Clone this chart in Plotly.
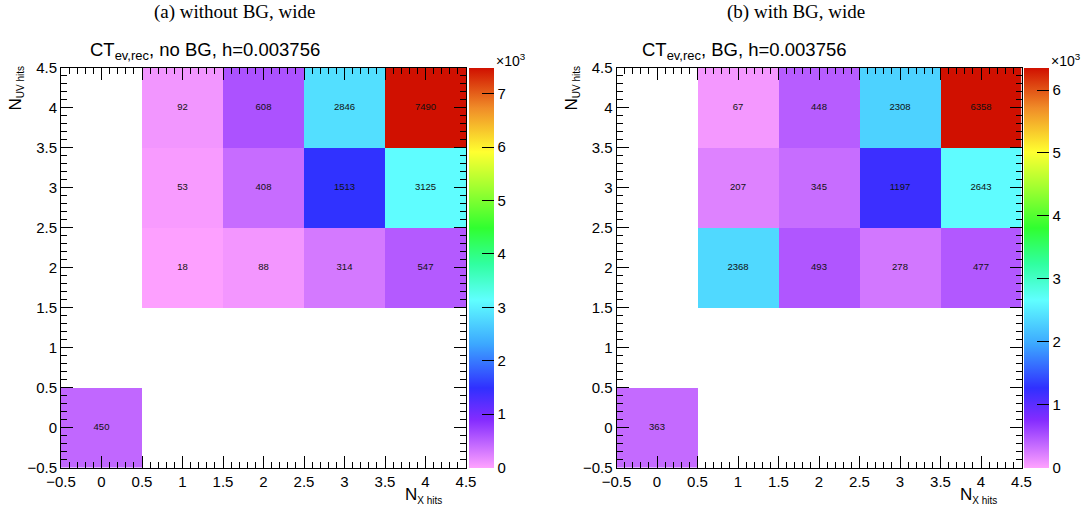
import plotly.graph_objects as go

W, H = 1088, 511

x_bins = [0, 1, 2, 3, 4]
y_bins = [0, 1, 2, 3, 4]

# rows: y = 0..4, columns: x = 0..4
z_nobg = [
    [450, None, None, None, None],
    [None, None, None, None, None],
    [None, 18, 88, 314, 547],
    [None, 53, 408, 1513, 3125],
    [None, 92, 608, 2846, 7490],
]
z_bg = [
    [363, None, None, None, None],
    [None, None, None, None, None],
    [None, 2368, 493, 278, 477],
    [None, 207, 345, 1197, 2643],
    [None, 67, 448, 2308, 6358],
]

panel_titles = ["(a) without BG, wide", "(b) with BG, wide"]
hist_titles = ["CT<sub>ev,rec</sub>, no BG, h=0.003756", "CT<sub>ev,rec</sub>, BG, h=0.003756"]
cbar_ticks = [0, 1, 2, 3, 4, 5, 6, 7]

colorscale = [
    [0.00, "rgb(255,162,255)"],
    [0.12, "rgb(132,44,255)"],
    [0.20, "rgb(48,48,255)"],
    [0.31, "rgb(60,168,255)"],
    [0.42, "rgb(96,255,255)"],
    [0.51, "rgb(48,255,160)"],
    [0.60, "rgb(48,255,48)"],
    [0.70, "rgb(160,255,48)"],
    [0.79, "rgb(255,255,48)"],
    [0.90, "rgb(240,140,40)"],
    [1.00, "rgb(208,16,0)"],
]

SANS = "Liberation Sans, Arial, sans-serif"
SERIF = "Liberation Serif, Times New Roman, serif"


def px_x(p):
    return p / W


def px_y(p):
    return 1 - p / H


y_dom = [px_y(467.5), px_y(68)]
x_doms = [[px_x(61), px_x(466)], [px_x(616.5), px_x(1021.5)]]
cbar_x = [px_x(468.5), px_x(1024)]

fig = go.Figure()

for i, z in enumerate([z_nobg, z_bg]):
    xa = "x" if i == 0 else "x2"
    ya = "y" if i == 0 else "y2"
    zmax = max(v for row in z for v in row if v is not None)
    fig.add_trace(go.Heatmap(
        x=x_bins, y=y_bins, z=z,
        colorscale=colorscale, zmin=0, zmax=zmax,
        xaxis=xa, yaxis=ya,
        colorbar=dict(
            x=cbar_x[i], xanchor="left", xref="paper",
            y=y_dom[0], yanchor="bottom", len=y_dom[1] - y_dom[0], lenmode="fraction",
            thickness=25, thicknessmode="pixels", xpad=0, ypad=0,
            outlinewidth=0,
            tickmode="array",
            tickvals=[t * 1000 for t in cbar_ticks if t * 1000 <= zmax],
            ticktext=[str(t) for t in cbar_ticks if t * 1000 <= zmax],
            ticks="inside", ticklen=12, tickcolor="black", tickwidth=1,
            tickfont=dict(size=15, family=SANS, color="black"),
        ),
        hoverongaps=False,
    ))
    # cell contents as text marks
    tx, ty, tt = [], [], []
    for yi, row in zip(y_bins, z):
        for xi, v in zip(x_bins, row):
            if v is not None:
                tx.append(xi)
                ty.append(yi)
                tt.append(str(v))
    fig.add_trace(go.Scatter(
        x=tx, y=ty, text=tt, mode="text", textposition="middle center",
        textfont=dict(size=9.5, color="#111", family=SANS),
        xaxis=xa, yaxis=ya, hoverinfo="skip", showlegend=False,
    ))

axis_common = dict(
    range=[-0.5, 4.5], tickmode="linear", tick0=-0.5, dtick=0.5,
    ticks="inside", ticklen=12, tickwidth=1, tickcolor="black",
    showline=True, linecolor="black", linewidth=1, mirror="allticks",
    showgrid=False, zeroline=False,
    tickfont=dict(size=15, family=SANS, color="black"),
    minor=dict(ticks="inside", dtick=0.1, tick0=-0.5, ticklen=6, tickcolor="black", showgrid=False),
)

layout = dict(
    width=W, height=H,
    margin=dict(l=0, r=0, t=0, b=0, autoexpand=False),
    paper_bgcolor="white", plot_bgcolor="white",
    showlegend=False,
    font=dict(family=SANS, color="black"),
)
layout["xaxis"] = dict(axis_common, domain=x_doms[0], anchor="y")
layout["yaxis"] = dict(axis_common, domain=y_dom, anchor="x")
layout["xaxis2"] = dict(axis_common, domain=x_doms[1], anchor="y2")
layout["yaxis2"] = dict(axis_common, domain=y_dom, anchor="x2")
fig.update_layout(**layout)

SUB = '<sub><span style="font-size:10px">{}</span></sub>'
ann = []
title_cx = [234.5, 796]
sub_cx = [205, 744]
x10_x = [494, 1049]
xt_right = [444, 999]
yt_cx = [16, 572]
for i in range(2):
    ann.append(dict(text=panel_titles[i], x=px_x(title_cx[i]), y=px_y(12), xref="paper", yref="paper",
                    xanchor="center", yanchor="middle", showarrow=False,
                    font=dict(family=SERIF, size=19, color="black")))
    ann.append(dict(text=hist_titles[i], x=px_x(sub_cx[i]), y=px_y(51), xref="paper", yref="paper",
                    xanchor="center", yanchor="middle", showarrow=False,
                    font=dict(family=SANS, size=18.5, color="black")))
    ann.append(dict(text="\u00d710<sup>3</sup>", x=px_x(x10_x[i]), y=px_y(60), xref="paper", yref="paper",
                    xanchor="left", yanchor="middle", showarrow=False,
                    font=dict(family=SANS, size=14, color="black")))
    ann.append(dict(text="N" + SUB.format("X hits"), x=px_x(xt_right[i]), y=px_y(495), xref="paper", yref="paper",
                    xanchor="right", yanchor="middle", showarrow=False,
                    font=dict(family=SANS, size=17, color="black")))
    ann.append(dict(text="N" + SUB.format("UV hits"), x=px_x(yt_cx[i]), y=px_y(64), xref="paper", yref="paper",
                    xanchor="center", yanchor="top", textangle=-90, showarrow=False,
                    font=dict(family=SANS, size=17, color="black")))
fig.update_layout(annotations=ann)

fig.write_html("out.html")
